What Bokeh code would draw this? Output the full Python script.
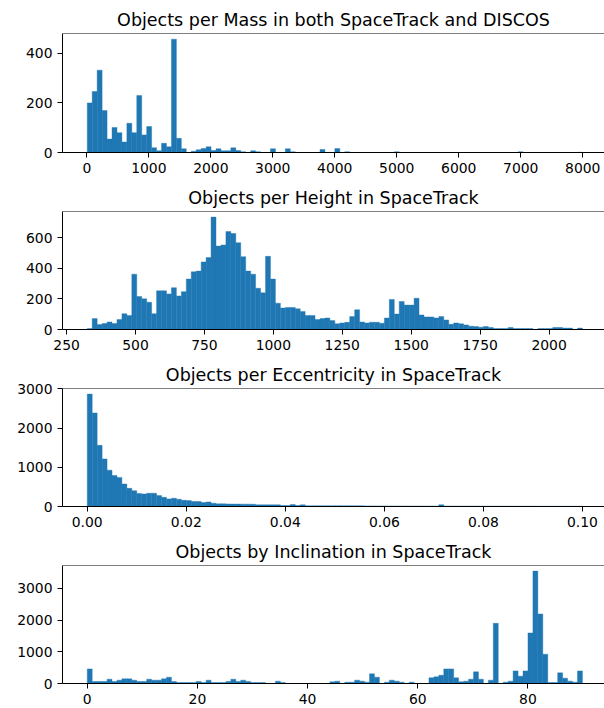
import numpy as np
from bokeh.plotting import figure
from bokeh.layouts import column
from bokeh.models import Range1d, FixedTicker, NumeralTickFormatter, BasicTickFormatter, Span
from bokeh.embed import file_html
from bokeh.resources import INLINE

# ---------------- data (histogram counts, 100 bins each) ----------------
mass_title = "Objects per Mass in both SpaceTrack and DISCOS"
mass_min, mass_max = 7, 7995
mass_counts = [200, 246, 332, 169, 54, 101, 80, 42, 118, 80,
               230, 71, 105, 19, 7, 37, 23, 457, 57, 15,
               0, 5, 11, 16, 23, 8, 15, 7, 7, 19,
               8, 3, 0, 7, 3, 0, 0, 15, 0, 0,
               15, 3, 0, 0, 0, 0, 0, 12, 0, 0,
               16, 0, 3, 0, 0, 0, 0, 0, 0, 0,
               0, 0, 3, 0, 0, 0, 0, 0, 0, 0,
               0, 0, 0, 0, 0, 0, 0, 0, 0, 0,
               0, 0, 0, 0, 0, 0, 0, 3, 0, 0,
               0, 0, 0, 0, 0, 0, 0, 0, 0, 1]
mass_xticks = [0, 1000, 2000, 3000, 4000, 5000, 6000, 7000, 8000]
mass_yticks = [0, 200, 400]

height_title = "Objects per Height in SpaceTrack"
height_min, height_max = 325, 2121
height_counts = [6, 71, 32, 39, 49, 39, 65, 103, 92, 361,
                 215, 200, 178, 103, 252, 252, 232, 273, 219, 247,
                 329, 376, 381, 441, 469, 733, 544, 551, 639, 626,
                 566, 475, 381, 361, 269, 239, 477, 329, 172, 140,
                 144, 144, 135, 118, 92, 92, 65, 71, 75, 58,
                 37, 43, 47, 84, 129, 49, 43, 47, 47, 41,
                 75, 196, 101, 183, 159, 159, 204, 95, 82, 82,
                 75, 84, 62, 34, 43, 37, 30, 22, 19, 15,
                 19, 13, 6, 6, 6, 13, 6, 6, 6, 6,
                 0, 6, 6, 6, 13, 13, 9, 9, 0, 9]
height_xticks = [250, 500, 750, 1000, 1250, 1500, 1750, 2000]
height_yticks = [0, 200, 400, 600]

ecc_title = "Objects per Eccentricity in SpaceTrack"
ecc_min, ecc_max = 0.0, 0.1
ecc_counts = [2869, 2388, 1561, 1215, 928, 793, 743, 574, 464, 405,
              329, 321, 338, 338, 278, 236, 194, 211, 186, 160,
              152, 127, 127, 101, 118, 84, 68, 68, 65, 62,
              62, 60, 60, 58, 42, 42, 42, 42, 42, 25,
              25, 50, 25, 42, 17, 17, 17, 17, 17, 17,
              20, 18, 17, 17, 16, 16, 15, 15, 15, 14,
              14, 14, 13, 13, 13, 12, 12, 12, 12, 11,
              11, 45, 11, 11, 10, 10, 10, 10, 10, 9,
              9, 9, 9, 9, 8, 8, 8, 8, 8, 8,
              7, 7, 7, 7, 7, 7, 6, 6, 6, 6]
ecc_xticks = [0.0, 0.02, 0.04, 0.06, 0.08, 0.10]
ecc_yticks = [0, 1000, 2000, 3000]

inc_title = "Objects by Inclination in SpaceTrack"
inc_min, inc_max = 0.0, 89.9
inc_counts = [461, 63, 63, 63, 136, 63, 105, 147, 147, 105,
              63, 63, 136, 105, 105, 147, 199, 63, 31, 31,
              31, 31, 63, 31, 105, 31, 31, 31, 63, 136,
              63, 105, 63, 31, 31, 31, 0, 0, 73, 31,
              0, 0, 0, 0, 0, 0, 0, 0, 0, 52,
              73, 0, 42, 42, 105, 73, 42, 304, 199, 0,
              42, 105, 73, 42, 0, 42, 0, 0, 0, 178,
              210, 262, 461, 461, 178, 52, 73, 136, 367, 136,
              0, 105, 1897, 0, 42, 73, 398, 231, 398, 1593,
              3543, 2191, 922, 31, 31, 335, 168, 73, 42, 398]
inc_xticks = [0, 20, 40, 60, 80]
inc_yticks = [0, 1000, 2000, 3000]

# ---------------- styling ----------------
BAR = "#1f77b4"
FONT = "DejaVu Sans"
W = 604
FRAME_LEFT = 62
REF_FRAME_W = 544.7          # reference frame runs past the window's right edge
FRAME_W = W - FRAME_LEFT


def panel(title, counts, lo, hi, xticks, yticks, xfmt, top_border):
    n = len(counts)
    edges = np.linspace(lo, hi, n + 1)
    span = hi - lo
    x0 = lo - 0.05 * span
    x1 = hi + 0.05 * span
    x1 = x0 + (x1 - x0) * FRAME_W / REF_FRAME_W
    ymax = max(counts) * 1.05
    p = figure(width=W, height=177, output_backend="svg", toolbar_location=None,
               x_range=Range1d(x0, x1), y_range=Range1d(0, ymax),
               min_border_left=FRAME_LEFT, min_border_right=0,
               min_border_top=top_border, min_border_bottom=25,
               title=title)
    p.quad(left=edges[:-1], right=edges[1:], bottom=0, top=counts,
           fill_color=BAR, line_color=BAR, line_width=0.4)
    p.title.align = "center"
    p.title.text_font = FONT
    p.title.text_font_size = "17.5px"
    p.title.text_font_style = "normal"
    p.title.text_color = "black"
    p.title.standoff = 7
    p.xgrid.visible = False
    p.ygrid.visible = False
    p.outline_line_color = None
    p.add_layout(Span(location=ymax, dimension="width", line_color="black", line_width=1))
    p.xaxis.ticker = FixedTicker(ticks=xticks, minor_ticks=[])
    p.yaxis.ticker = FixedTicker(ticks=yticks, minor_ticks=[])
    p.xaxis.formatter = xfmt
    p.yaxis.formatter = BasicTickFormatter(use_scientific=False)
    for ax in (p.xaxis[0], p.yaxis[0]):
        ax.axis_line_color = "black"
        ax.axis_line_width = 1
        ax.major_tick_line_color = "black"
        ax.major_tick_in = 0
        ax.major_tick_out = 5
        ax.minor_tick_line_color = None
        ax.major_label_text_font = FONT
        ax.major_label_text_font_size = "13.9px"
        ax.major_label_text_color = "black"
        ax.major_label_standoff = 5
    return p


p1 = panel(mass_title, mass_counts, mass_min, mass_max, mass_xticks, mass_yticks,
           BasicTickFormatter(use_scientific=False), 33)
p2 = panel(height_title, height_counts, height_min, height_max, height_xticks, height_yticks,
           BasicTickFormatter(use_scientific=False), 34)
p3 = panel(ecc_title, ecc_counts, ecc_min, ecc_max, ecc_xticks, ecc_yticks,
           NumeralTickFormatter(format="0.00"), 34)
p4 = panel(inc_title, inc_counts, inc_min, inc_max, inc_xticks, inc_yticks,
           BasicTickFormatter(use_scientific=False), 34)

layout = column(p1, p2, p3, p4, spacing=0)
open("out.html", "w").write(file_html(layout, INLINE))
